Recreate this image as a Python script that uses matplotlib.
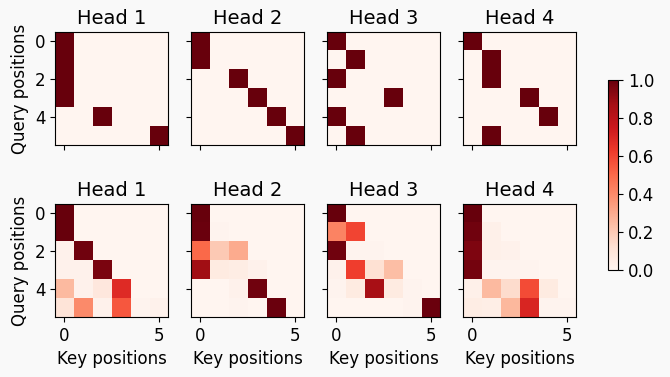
import numpy as np
import matplotlib.pyplot as plt

# attention weights, 6 queries x 6 keys
enc_head1 = [[1, 0, 0, 0, 0, 0],
             [1, 0, 0, 0, 0, 0],
             [1, 0, 0, 0, 0, 0],
             [1, 0, 0, 0, 0, 0],
             [0, 0, 1, 0, 0, 0],
             [0, 0, 0, 0, 0, 1]]
enc_head2 = [[1, 0, 0, 0, 0, 0],
             [1, 0, 0, 0, 0, 0],
             [0, 0, 1, 0, 0, 0],
             [0, 0, 0, 1, 0, 0],
             [0, 0, 0, 0, 1, 0],
             [0, 0, 0, 0, 0, 1]]
enc_head3 = [[1, 0, 0, 0, 0, 0],
             [0, 1, 0, 0, 0, 0],
             [1, 0, 0, 0, 0, 0],
             [0, 0, 0, 1, 0, 0],
             [1, 0, 0, 0, 0, 0],
             [0, 1, 0, 0, 0, 0]]
enc_head4 = [[1, 0, 0, 0, 0, 0],
             [0, 1, 0, 0, 0, 0],
             [0, 1, 0, 0, 0, 0],
             [0, 0, 0, 1, 0, 0],
             [0, 0, 0, 0, 1, 0],
             [0, 1, 0, 0, 0, 0]]

dec_head1 = [[1.00, 0, 0, 0, 0, 0],
             [1.00, 0, 0, 0, 0, 0],
             [0.02, 0.98, 0, 0, 0, 0],
             [0.02, 0.02, 0.96, 0, 0, 0],
             [0.25, 0.02, 0.08, 0.68, 0, 0],
             [0.10, 0.40, 0.02, 0.55, 0.01, 0.02]]
dec_head2 = [[1.00, 0, 0, 0, 0, 0],
             [0.99, 0.01, 0, 0, 0, 0],
             [0.50, 0.20, 0.30, 0, 0, 0],
             [0.88, 0.06, 0.05, 0.02, 0, 0],
             [0.00, 0.00, 0.02, 0.98, 0, 0],
             [0.00, 0.00, 0.01, 0.00, 0.99, 0]]
dec_head3 = [[1.00, 0, 0, 0, 0, 0],
             [0.42, 0.60, 0, 0, 0, 0],
             [0.98, 0.01, 0.01, 0, 0, 0],
             [0.02, 0.62, 0.12, 0.24, 0, 0],
             [0.01, 0.06, 0.86, 0.06, 0.01, 0],
             [0.00, 0.00, 0.00, 0.00, 0.01, 0.99]]
dec_head4 = [[1.00, 0, 0, 0, 0, 0],
             [0.98, 0.03, 0, 0, 0, 0],
             [0.95, 0.03, 0.02, 0, 0, 0],
             [0.97, 0.01, 0.01, 0.01, 0, 0],
             [0.03, 0.25, 0.14, 0.58, 0.06, 0],
             [0.05, 0.04, 0.26, 0.70, 0.01, 0.01]]

rows = [[enc_head1, enc_head2, enc_head3, enc_head4],
        [dec_head1, dec_head2, dec_head3, dec_head4]]
titles = ['Head 1', 'Head 2', 'Head 3', 'Head 4']

plt.rcParams['font.family'] = ['DejaVu Sans']
plt.rcParams['font.size'] = 12
fig, axes = plt.subplots(2, 4, figsize=(6.7, 3.77), dpi=100,
                         sharex=True, sharey=True, squeeze=False)
fig.patch.set_facecolor('#f9f9f9')
plt.subplots_adjust(left=0.082, right=0.86, top=0.915, bottom=0.159,
                    wspace=0.2, hspace=0.52)

for i, row in enumerate(rows):
    for j, mat in enumerate(row):
        ax = axes[i, j]
        pcm = ax.imshow(np.array(mat), cmap='Reds', vmin=0, vmax=1)
        ax.set_title(titles[j], fontsize=14)
        if i == 1:
            ax.set_xlabel('Key positions')
        if j == 0:
            ax.set_ylabel('Query positions')

axes[0, 0].set_xticks([0, 5])
axes[0, 0].set_yticks([0, 2, 4])

cax = fig.add_axes([608 / 670, 1 - 270 / 377, 10 / 670, 190 / 377])
cb = fig.colorbar(pcm, cax=cax)

plt.savefig('out.png', dpi=100, facecolor=fig.get_facecolor())
